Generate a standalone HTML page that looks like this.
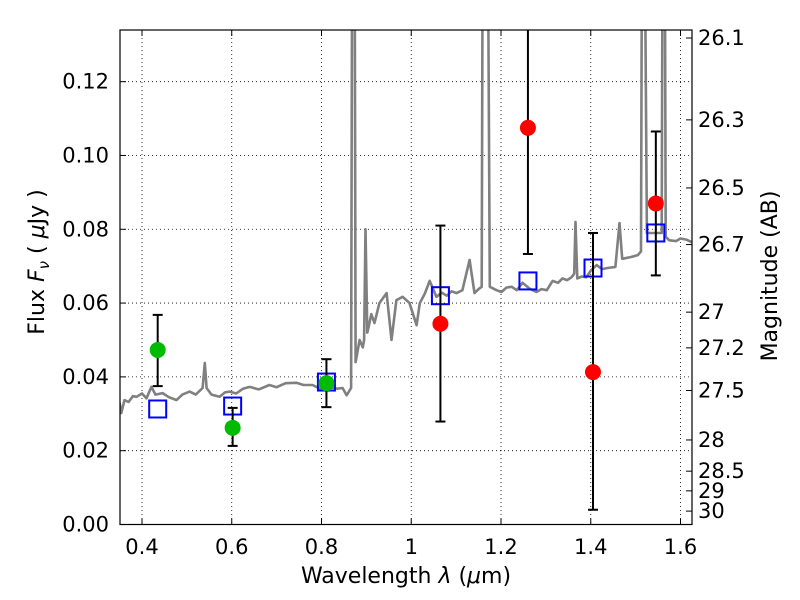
<!DOCTYPE html>
<html><head><meta charset="utf-8"><style>
body{margin:0;background:#fff}
svg{display:block;font-family:"DejaVu Sans","Liberation Sans",sans-serif}
</style></head><body>
<svg id="chart" width="800" height="600"></svg>
<script>
const specLam=[0.35,0.354,0.361,0.37,0.38,0.388,0.40,0.41,0.421,0.43,0.446,0.46,0.477,0.49,0.506,0.52,0.535,0.54,0.544,0.555,0.573,0.585,0.595,0.61,0.625,0.64,0.66,0.684,0.70,0.72,0.744,0.76,0.78,0.802,0.82,0.835,0.847,0.856,0.866,0.869,0.873,0.876,0.885,0.892,0.895,0.898,0.902,0.905,0.911,0.918,0.929,0.945,0.956,0.967,0.981,0.996,1.012,1.019,1.03,1.041,1.056,1.068,1.079,1.09,1.101,1.114,1.13,1.141,1.15,1.157,1.16,1.163,1.166,1.169,1.175,1.19,1.201,1.212,1.224,1.235,1.248,1.265,1.279,1.29,1.302,1.315,1.327,1.337,1.347,1.357,1.363,1.366,1.37,1.38,1.39,1.4,1.413,1.425,1.437,1.455,1.464,1.47,1.49,1.505,1.512,1.515,1.518,1.525,1.545,1.558,1.561,1.564,1.567,1.575,1.59,1.6,1.613,1.625];
const specFlux=[0.033,0.0302,0.0337,0.0332,0.0348,0.0346,0.0355,0.0342,0.0373,0.0352,0.0356,0.0345,0.0337,0.0352,0.036,0.0352,0.037,0.0438,0.037,0.0352,0.0346,0.0358,0.036,0.0355,0.0368,0.0373,0.0366,0.0378,0.0372,0.0383,0.0384,0.0378,0.0378,0.0365,0.0372,0.0368,0.037,0.035,0.037,0.2,0.2,0.044,0.05,0.048,0.05,0.08,0.052,0.0535,0.057,0.0546,0.06,0.0627,0.05,0.0608,0.0617,0.06,0.054,0.06,0.0625,0.066,0.0617,0.0628,0.062,0.0632,0.0627,0.0635,0.0717,0.0627,0.0638,0.0644,0.2,0.2,0.2,0.2,0.0644,0.0635,0.063,0.0642,0.0644,0.0635,0.0655,0.0638,0.063,0.0638,0.0635,0.066,0.0655,0.0667,0.0662,0.067,0.068,0.082,0.0667,0.0672,0.067,0.0688,0.0703,0.0692,0.0695,0.0698,0.0817,0.072,0.0725,0.073,0.074,0.2,0.2,0.079,0.079,0.079,0.2,0.2,0.078,0.077,0.0768,0.0775,0.0772,0.0765];
const photLam=[0.435,0.602,0.811,1.065,1.26,1.405,1.545];
const photFlux=[0.0473,0.0262,0.0383,0.0544,0.1075,0.0413,0.087];
const errLo=[0.0375,0.0213,0.0318,0.0279,0.0733,0.004,0.0675];
const errHi=[0.0568,0.0316,0.0448,0.081,0.2,0.079,0.1065];
const detected=[1,1,1,0,0,0,0];
const modelFlux=[0.0313,0.0321,0.0386,0.062,0.066,0.0695,0.079];
const xTicks=[0.4,0.6,0.8,1.0,1.2,1.4,1.6];
const xTickLabels=["0.4","0.6","0.8","1","1.2","1.4","1.6"];
const yTicks=[0,0.02,0.04,0.06,0.08,0.10,0.12];
const yTickLabels=["0.00","0.02","0.04","0.06","0.08","0.10","0.12"];
const magTicks=[26.1,26.3,26.5,26.7,27,27.2,27.5,28,28.5,29,30];

const L=120,R=692,T=30,B=524.5,X0=0.351,X1=1.6256,Y0=0,Y1=0.134;
const sx=v=>L+(v-X0)/(X1-X0)*(R-L);
const sy=v=>B-(v-Y0)/(Y1-Y0)*(B-T);
const NS="http://www.w3.org/2000/svg";
const svg=document.getElementById('chart');
function mk(tag,attrs,parent){const e=document.createElementNS(NS,tag);for(const k in attrs)e.setAttribute(k,attrs[k]);(parent||svg).appendChild(e);return e;}

const defs=mk('defs',{});const cp=mk('clipPath',{id:'clip'},defs);mk('rect',{x:L,y:T,width:R-L,height:B-T},cp);

xTicks.forEach((t,i)=>{
 const g=mk('line',{x1:sx(t),x2:sx(t),y1:T,y2:B,stroke:'#000','stroke-width':0.8,'stroke-dasharray':'1,3'});
 
 const tk=mk('line',{x1:sx(t),x2:sx(t),y1:B,y2:B-6,stroke:'#000'});
 
 const tk2=mk('line',{x1:sx(t),x2:sx(t),y1:T,y2:T+6,stroke:'#000'});
 
 const lb=mk('text',{x:sx(t),y:554,'font-size':21,'text-anchor':'middle'});lb.textContent=xTickLabels[i];
 
});
yTicks.forEach((t,i)=>{
 if(t>0){const g=mk('line',{x1:L,x2:R,y1:sy(t),y2:sy(t),stroke:'#000','stroke-width':0.8,'stroke-dasharray':'1,3'});
 }
 const tk=mk('line',{x1:L,x2:L+6,y1:sy(t),y2:sy(t),stroke:'#000'});
 
 const lb=mk('text',{x:109,y:sy(t)+7,'font-size':21,'text-anchor':'end'});lb.textContent=yTickLabels[i];
 
});
magTicks.forEach(m=>{
 const f=Math.pow(10,(23.9-m)/2.5);const y=sy(f);
 const tk=mk('line',{x1:R,x2:R-6,y1:y,y2:y,stroke:'#000'});
 
 const lb=mk('text',{x:698,y:y+7,'font-size':21});lb.textContent=String(m);
 
});

const pts=specLam.map((l,i)=>sx(l).toFixed(1)+','+sy(specFlux[i]).toFixed(1)).join(' ');
const sp=mk('polyline',{points:pts,fill:'none',stroke:'#808080','stroke-width':2.6,'clip-path':'url(#clip)','stroke-linejoin':'round'});


photLam.forEach((l,i)=>{
 const r=mk('rect',{x:sx(l)-8.5,y:sy(modelFlux[i])-8.5,width:17,height:17,fill:'none',stroke:'#0000ff','stroke-width':2});
 
});
photLam.forEach((l,i)=>{
 const x=sx(l),y1=Math.max(sy(errHi[i]),T),y2=sy(errLo[i]);
 const e=mk('line',{x1:x,x2:x,y1:y1,y2:y2,stroke:'#000','stroke-width':2});
 
 [errLo[i],errHi[i]].forEach(v=>{if(sy(v)>=T){const c=mk('line',{x1:x-5,x2:x+5,y1:sy(v),y2:sy(v),stroke:'#000','stroke-width':2});
 }});
 const p=mk('circle',{cx:x,cy:sy(photFlux[i]),r:8,fill:detected[i]?'#00bb00':'#ff0000'});
 
});

const fr=mk('rect',{x:L,y:T,width:R-L,height:B-T,fill:'none',stroke:'#000','stroke-width':1.2});


const xl=mk('text',{x:406,y:583,'font-size':22,'text-anchor':'middle'});
xl.innerHTML='Wavelength  <tspan font-style="italic">λ</tspan> (<tspan font-style="italic">μ</tspan>m)';

const yl=mk('text',{x:0,y:0,'font-size':22,'text-anchor':'middle',transform:'translate(44,262) rotate(-90)'});
yl.innerHTML='Flux  <tspan font-style="italic">F</tspan><tspan font-style="italic" font-size="15" dy="5">ν</tspan><tspan dy="-5">  (  </tspan><tspan font-style="italic">μ</tspan>Jy )';

const ml=mk('text',{x:0,y:0,'font-size':22,'text-anchor':'middle',transform:'translate(777,276) rotate(-90)'});
ml.textContent='Magnitude (AB)';

</script>
</body></html>
